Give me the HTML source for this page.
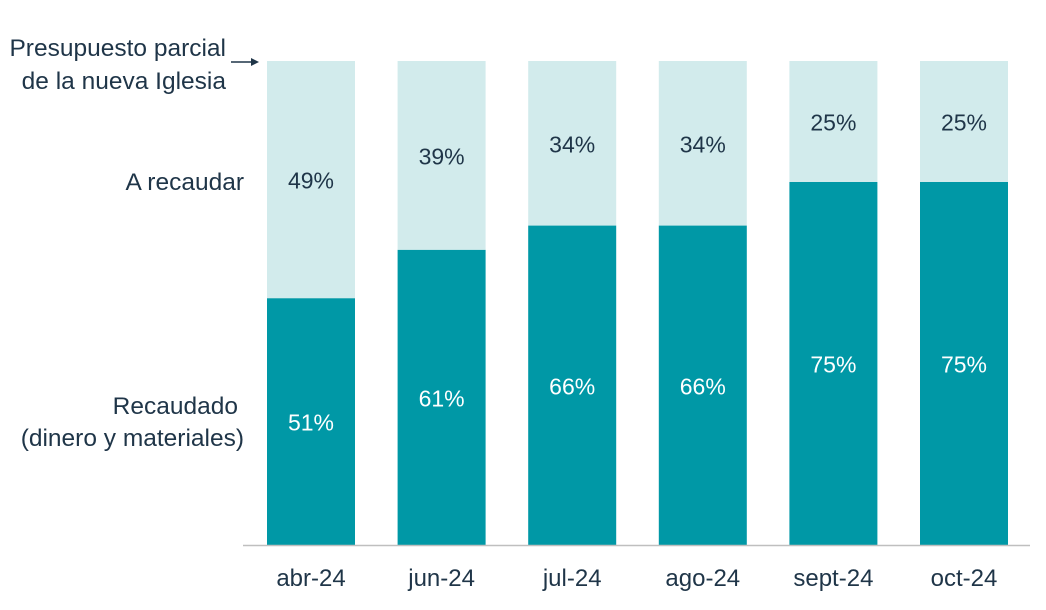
<!DOCTYPE html>
<html><head><meta charset="utf-8"><style>
body{margin:0;background:#fff;width:1046px;height:605px;overflow:hidden}
svg text{font-family:"Liberation Sans",sans-serif;fill:#1f3548}
</style></head><body>
<svg id="chart" width="1046" height="605" viewBox="0 0 1046 605">
<g id="bars"></g>
<line x1="243" y1="545.5" x2="1030" y2="545.5" stroke="#bfbfbf" stroke-width="1.5"/>
<text x="226" y="56" font-size="24.5" text-anchor="end">Presupuesto parcial</text>
<text x="226" y="89" font-size="24.5" text-anchor="end">de la nueva Iglesia</text>
<line x1="231" y1="62" x2="252" y2="62" stroke="#1f3548" stroke-width="1.5"/>
<polygon points="259,62 251,58 251,66" fill="#1f3548"/>
<text x="244" y="190" font-size="24.5" text-anchor="end">A recaudar</text>
<text x="238" y="414" font-size="24.5" text-anchor="end">Recaudado</text>
<text x="244" y="446" font-size="24.5" text-anchor="end">(dinero y materiales)</text>
</svg>
<script>
const categories=["abr-24","jun-24","jul-24","ago-24","sept-24","oct-24"];
const recaudado=[51,61,66,66,75,75];
const aRecaudar=[49,39,34,34,25,25];
const g=document.getElementById('bars');
const NS="http://www.w3.org/2000/svg";
const top0=61,base=545,H=base-top0;
const y=v=>base-v/100*H;
const x0=267,step=130.6,bw=88;
function mk(t,a){const e=document.createElementNS(NS,t);for(const k in a)e.setAttribute(k,a[k]);g.appendChild(e);return e;}
categories.forEach((c,i)=>{
  const x=x0+i*step;
  const r=recaudado[i],a=aRecaudar[i];
  const b1=mk('rect',{x:x,y:y(r),width:bw,height:base-y(r),fill:'#0098a6'});
  
  
  const b2=mk('rect',{x:x,y:y(r+a),width:bw,height:y(r)-y(r+a),fill:'#d2ebec'});
  
  
  const t1=mk('text',{x:x+bw/2,y:(y(r)+base)/2+9,'font-size':23,'text-anchor':'middle',style:'fill:#fff'});
  t1.textContent=r+'%';
  
  
  const t2=mk('text',{x:x+bw/2,y:(y(r)+y(r+a))/2+9,'font-size':23,'text-anchor':'middle'});
  t2.textContent=a+'%';
  
  
  const t3=mk('text',{x:x+bw/2,y:586,'font-size':24,'text-anchor':'middle'});
  t3.textContent=c;
  
  
});
</script>
</body></html>
